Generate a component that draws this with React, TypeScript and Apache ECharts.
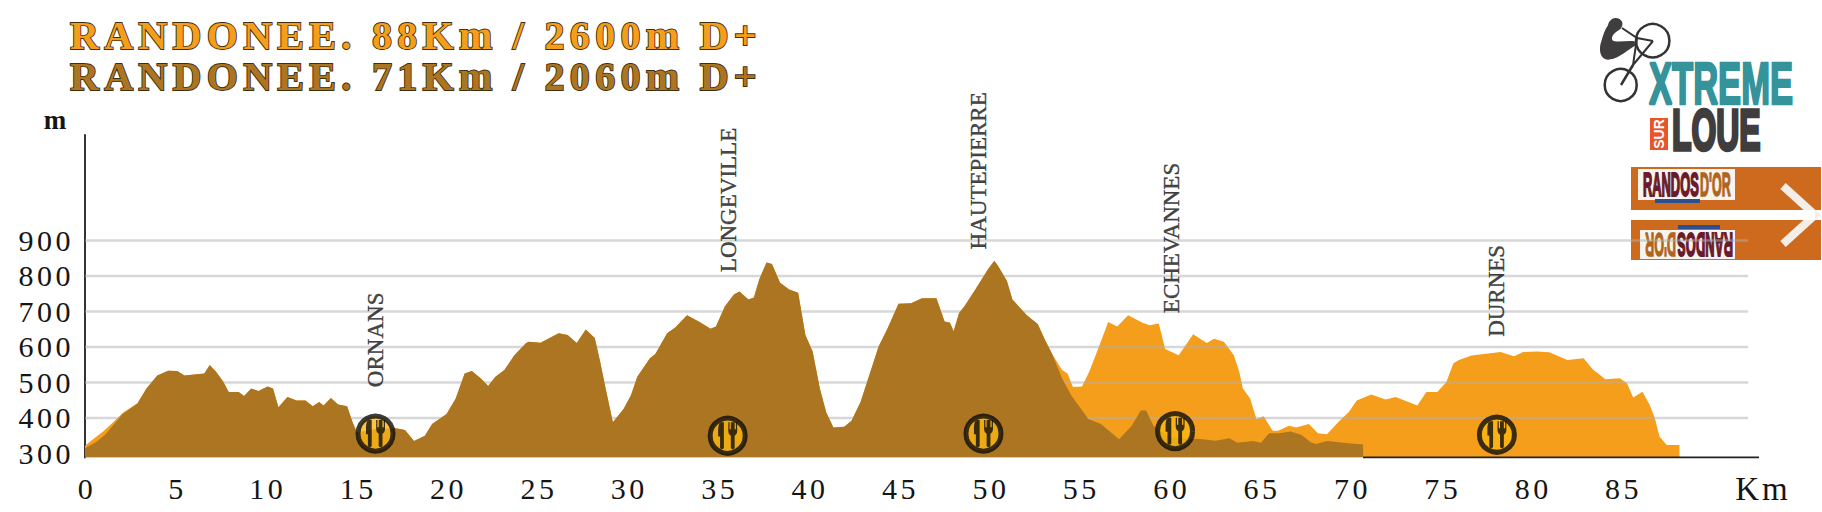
import React, { useEffect, useRef } from "react";
import * as echarts from "echarts";

const kmTicks = [0, 5, 10, 15, 20, 25, 30, 35, 40, 45, 50, 55, 60, 65, 70, 75, 80, 85];
const elevationTicks = [300, 400, 500, 600, 700, 800, 900];
const gridValues = [400, 500, 600, 700, 800, 900];
const titles = ["RANDONEE. 88Km / 2600m D+", "RANDONEE. 71Km / 2060m D+"];

const shortStart = [[0, 315], [0.6, 332], [1.1, 352], [2.08, 411], [2.9, 440]];
const longStart = [[0, 322], [0.5, 342], [1, 362], [1.5, 385], [2.08, 414], [2.9, 442]];
const shared = [
  [3.4, 483], [4, 520], [4.6, 533], [5.1, 532], [5.5, 520], [6.2, 523], [6.6, 525], [6.9, 549], [7.25, 530],
  [7.65, 502], [7.95, 473], [8.5, 473], [8.8, 462], [9.2, 483], [9.6, 476], [10.1, 489], [10.4, 483], [10.7, 430],
  [11.2, 459], [11.7, 449], [12.2, 449], [12.6, 433], [12.95, 445], [13.2, 435], [13.6, 456], [14, 438], [14.5, 433],
  [14.8, 388], [15.05, 359], [16, 368], [17.2, 371], [17.7, 366], [18.2, 335], [18.8, 350], [19.2, 383], [20, 411],
  [20.5, 454], [21, 525], [21.4, 532], [21.9, 511], [22.3, 490], [22.7, 516], [23.2, 535], [23.75, 577], [24.4, 611],
  [24.55, 615], [25.2, 612], [26.2, 639], [26.7, 634], [27.2, 611], [27.7, 649], [28.2, 625], [28.5, 558], [28.8, 483],
  [29.2, 388], [29.8, 426], [30.2, 464], [30.55, 516], [31.25, 568], [31.55, 580], [32.2, 639], [32.65, 655], [33.3, 689],
  [34, 670], [34.6, 651], [34.9, 658], [35.4, 715], [35.9, 748], [36.2, 756], [36.7, 734], [37, 739], [37.3, 791],
  [37.7, 838], [38, 834], [38.45, 781], [38.95, 762], [39.45, 753], [39.85, 634], [40.25, 587], [40.65, 483], [41, 416],
  [41.4, 373], [42, 375], [42.4, 392], [42.9, 445], [43.5, 539], [43.9, 601], [44.4, 653], [45, 722], [45.7, 723],
  [46.3, 737], [47.1, 737], [47.55, 672], [47.85, 668], [48.05, 644], [48.35, 696], [48.65, 715], [49.25, 762],
  [49.95, 819], [50.3, 843], [50.5, 829], [51, 786], [51.3, 734], [52.1, 689], [52.7, 665], [53.1, 620], [53.5, 580],
];
const shortEnd = [
  [54.05, 511], [54.55, 464], [55.5, 397], [56.2, 383], [57.2, 340], [57.9, 378], [58.4, 421], [58.7, 421], [59.1, 378],
  [60, 345], [61.67, 341], [62.55, 336], [63.3, 343], [63.75, 330], [64.6, 335], [65.05, 330], [65.5, 357], [66.05, 357],
  [66.7, 362], [67.3, 352], [67.8, 332], [68.1, 327], [68.7, 335], [69.6, 330], [70.7, 325],
];
const longEnd = [
  [54.05, 535], [54.35, 525], [54.65, 487], [55.15, 489], [55.55, 530], [56.05, 596], [56.6, 670], [57.1, 658], [57.7, 689],
  [58.5, 668], [58.9, 661], [59.4, 666], [59.75, 594], [60.5, 577], [60.9, 606], [61.3, 636], [62.05, 611], [62.45, 623],
  [63, 615], [63.55, 577], [63.85, 530], [64.05, 483], [64.45, 455], [64.8, 397], [65.2, 405], [65.7, 364], [66, 364],
  [66.6, 378], [67, 373], [67.7, 383], [68.2, 357], [68.7, 354], [69.4, 392], [69.9, 416], [70.35, 449], [71.15, 466],
  [71.95, 452], [72.5, 459], [73.7, 435], [74.2, 473], [74.8, 473], [75.3, 501], [75.7, 554], [76, 563], [76.7, 576],
  [78.3, 586], [79.05, 574], [79.55, 586], [80.3, 587], [81, 585], [82, 563], [82.9, 568], [83.4, 537], [84.1, 509],
  [84.9, 512], [85.3, 498], [85.64, 458], [86.15, 474], [86.55, 437], [86.84, 399], [87.1, 347], [87.5, 324], [88.2, 324],
];

const placeNames = ["ORNANS", "LONGEVILLE", "HAUTEPIERRE", "ECHEVANNES", "DURNES"];
const placeKm = [16.06, 35.6, 49.4, 60.1, 78.1];
const placeLabelElevation = [620, 1014, 1096, 907, 758];
const stopKm = [16.07, 35.55, 49.7, 60.3, 78.1];
const stopElevation = [356, 350, 356, 363, 353];

const ICON =
  "path://M7.5 3C5.5 3 5 6 5 9L5 13L6.5 13L6.5 21C6.5 22.3 9.5 22.3 9.5 21L9.5 3ZM13 3L13 9C13 11 14 12 15 12.5L15 21C15 22.3 18 22.3 18 21L18 12.5C19 12 20 11 20 9L20 3L19 3L19 8L18 8L18 3L15 3L15 8L14 8L14 3Z";
const RIDER =
  "M46 54C66 54 74 72 62 86C54 92 46 96 40 104C34 112 34 122 44 124C62 126 84 122 104 124L108 136C84 148 62 174 28 179C2 182 -6 152 4 124C10 104 14 90 24 76C26 64 34 56 46 54Z";

const SERIF = '"Liberation Serif", serif';
const COND = '"Liberation Sans", sans-serif';
const BROWN = "#AC7522";
const ORANGE = "#F49E1B";
const PANEL = "#CE6A1E";
const INK = "#151515";
const MIN_Y = 289;
const MAX_Y = 1197;
const MAX_X = 92.6;
const GRID_END = 92;
const TAIL_START = 70.7;

let riderRegistered = false;

export default function App() {
  const ref = useRef<HTMLDivElement>(null);
  useEffect(() => {
    if (!riderRegistered) {
      echarts.graphic.registerShape("rider", echarts.graphic.extendPath(RIDER, {}));
      riderRegistered = true;
    }
    const chart = echarts.init(ref.current!, undefined, { renderer: "svg" });
    const area = (name: string, data: number[][], color: string, z: number) => ({
      type: "line", name, data, z, silent: true, symbol: "none", showSymbol: false,
      lineStyle: { width: 0 }, areaStyle: { color, opacity: 1, origin: "start" },
    });
    const rule = (data: number[][], color: string, width: number, z: number) => ({
      type: "line", data, z, silent: true, symbol: "none", lineStyle: { color, width },
    });
    const heavy = (fill: string, w: number) => ({ fill, stroke: fill, lineWidth: w });
    const logo: any[] = [
      { type: "circle", shape: { cx: 1652.7, cy: 40.7, r: 16.7 }, style: { fill: "none", stroke: "#333", lineWidth: 2.5 } },
      { type: "circle", shape: { cx: 1620.7, cy: 85, r: 16 }, style: { fill: "none", stroke: "#333", lineWidth: 2.5 } },
      { type: "polyline", shape: { points: [[1653, 41], [1637, 38], [1622, 28]] }, style: { fill: "none", stroke: "#333", lineWidth: 2 } },
      { type: "polyline", shape: { points: [[1637, 38], [1633, 65], [1653, 41]] }, style: { fill: "none", stroke: "#333", lineWidth: 2 } },
      { type: "line", shape: { x1: 1633, y1: 65, x2: 1621, y2: 85 }, style: { stroke: "#333", lineWidth: 2.5 } },
      { type: "rider", x: 1600, y: 0, scaleX: 1 / 3, scaleY: 1 / 3, style: { fill: "#3f3d3e" } },
      { type: "text", x: 1649, y: 83.5, scaleX: 0.576, style: { text: "XTREME", font: `bold 60px ${COND}`, ...heavy("#35939C", 2.5), textVerticalAlign: "middle" } },
      { type: "text", x: 1672, y: 130.5, scaleX: 0.56, style: { text: "LOUE", font: `bold 57px ${COND}`, ...heavy("#3F3D3E", 3.5), textVerticalAlign: "middle" } },
      { type: "rect", shape: { x: 1650, y: 118, width: 18, height: 32 }, style: { fill: "#E8552A" } },
      { type: "text", x: 1659, y: 134, rotation: Math.PI / 2, style: { text: "SUR", font: `bold 14px ${COND}`, fill: "#fff", textAlign: "center", textVerticalAlign: "middle" } },
      { type: "rect", shape: { x: 1631, y: 167, width: 190, height: 43 }, style: { fill: PANEL } },
      { type: "rect", shape: { x: 1631, y: 220, width: 190, height: 40 }, style: { fill: PANEL } },
      { type: "polyline", shape: { points: [[1783, 186], [1815, 215], [1783, 244]] }, style: { fill: "none", stroke: "#F4EEE8", lineWidth: 8 } },
      { type: "line", shape: { x1: 1631, y1: 215, x2: 1815, y2: 215 }, style: { stroke: "#fff", lineWidth: 10 } },
      { type: "rect", shape: { x: 1638, y: 169, width: 97, height: 31 }, style: { fill: "#F7F3EE" } },
      { type: "rect", shape: { x: 1640, y: 230, width: 95, height: 29 }, style: { fill: "#F7F3EE" } },
      { type: "text", x: 1643, y: 184, scaleX: 0.39, style: { text: "RANDOS", font: `bold 33px ${COND}`, ...heavy("#6B1A2A", 2), textVerticalAlign: "middle" } },
      { type: "text", x: 1700, y: 184, scaleX: 0.38, style: { text: "D'OR", font: `bold 33px ${COND}`, ...heavy("#B0641C", 1.5), textVerticalAlign: "middle" } },
      { type: "text", x: 1733, y: 245, rotation: Math.PI, scaleX: 0.39, style: { text: "RANDOS", font: `bold 33px ${COND}`, ...heavy("#6B1A2A", 2), textVerticalAlign: "middle" } },
      { type: "text", x: 1676, y: 245, rotation: Math.PI, scaleX: 0.38, style: { text: "D'OR", font: `bold 33px ${COND}`, ...heavy("#B0641C", 1.5), textVerticalAlign: "middle" } },
      { type: "rect", shape: { x: 1655, y: 199, width: 45, height: 4 }, style: { fill: "#2B4F8F" } },
      { type: "rect", shape: { x: 1678, y: 225, width: 42, height: 4 }, style: { fill: "#2B4F8F" } },
    ];
    chart.setOption({
      animation: false,
      backgroundColor: "#ffffff",
      textStyle: { fontFamily: SERIF },
      title: titles.map((text, i) => ({
        text, left: 70, top: 13 + i * 41,
        padding: 0,
        textStyle: {
          fontFamily: SERIF, fontWeight: "bold", fontSize: 40, lineHeight: 44,
          color: i === 0 ? ORANGE : BROWN,
          textBorderColor: "#3f2f10", textBorderWidth: 1.8,
        },
      })),
      grid: { left: 85, right: 63, top: 135, bottom: 54.6, containLabel: false },
      xAxis: {
        type: "value", min: 0, max: MAX_X,
        axisLine: { show: false }, axisTick: { show: false }, splitLine: { show: false },
        axisLabel: {
          customValues: kmTicks, fontFamily: SERIF, fontSize: 30, color: INK, margin: 16,
          padding: [0, 0, 0, 4], hideOverlap: false,
        },
      },
      yAxis: {
        type: "value", min: MIN_Y, max: MAX_Y,
        axisLine: { show: true, lineStyle: { color: "#333", width: 2 } },
        axisTick: { show: false }, splitLine: { show: false },
        axisLabel: { customValues: elevationTicks, fontFamily: SERIF, fontSize: 30, color: INK, margin: 11 },
      },
      series: [
        area("88 km", [...longStart, ...shared, ...longEnd], ORANGE, 2),
        ...gridValues.map((v) => rule([[0, v], [GRID_END, v]], "rgba(175,175,175,0.5)", 2.5, 3)),
        rule([[TAIL_START, MIN_Y], [MAX_X, MIN_Y]], "#222", 2, 3),
        area("71 km", [...shortStart, ...shared, ...shortEnd], BROWN, 4),
        {
          type: "scatter", z: 5, silent: true, symbol: "circle", symbolSize: 35,
          itemStyle: { color: "#FDB813", borderColor: "#0c0c0c", borderWidth: 5 },
          data: stopKm.map((k, i) => [k, stopElevation[i]]),
        },
        {
          type: "scatter", z: 6, silent: true, symbol: ICON, symbolSize: [19, 27],
          itemStyle: { color: "#0c0c0c" },
          data: stopKm.map((k, i) => [k, stopElevation[i]]),
        },
        {
          type: "scatter", z: 7, silent: true, symbolSize: 0,
          label: {
            show: true, position: "inside", rotate: 90, align: "center", verticalAlign: "middle",
            formatter: (p: any) => p.name, fontFamily: SERIF, fontSize: 23, color: INK,
            textBorderColor: INK, textBorderWidth: 0.4,
          },
          data: placeNames.map((name, i) => ({ name, value: [placeKm[i], placeLabelElevation[i]] })),
        },
      ],
      graphic: [
        { type: "text", x: 55, y: 120, style: { text: "m", font: `bold 27px ${SERIF}`, fill: INK, textAlign: "center", textVerticalAlign: "middle" } },
        { type: "text", x: 1763, y: 489, style: { text: "Km", font: `33px ${SERIF}`, fill: INK, textAlign: "center", textVerticalAlign: "middle" } },
        ...logo,
      ],
    });
    return () => chart.dispose();
  }, []);
  return (
    <>
      <style>{`body{margin:0} #chart text[style*="30px"]{letter-spacing:3.5px} #chart text[style*="40px"]{letter-spacing:5.3px} #chart text[style*="33px"][style*="Serif"]{letter-spacing:3px}`}</style>
      <div id="chart" ref={ref} style={{ position: "absolute", left: 0, top: 0, width: 1822, height: 512 }} />
    </>
  );
}
